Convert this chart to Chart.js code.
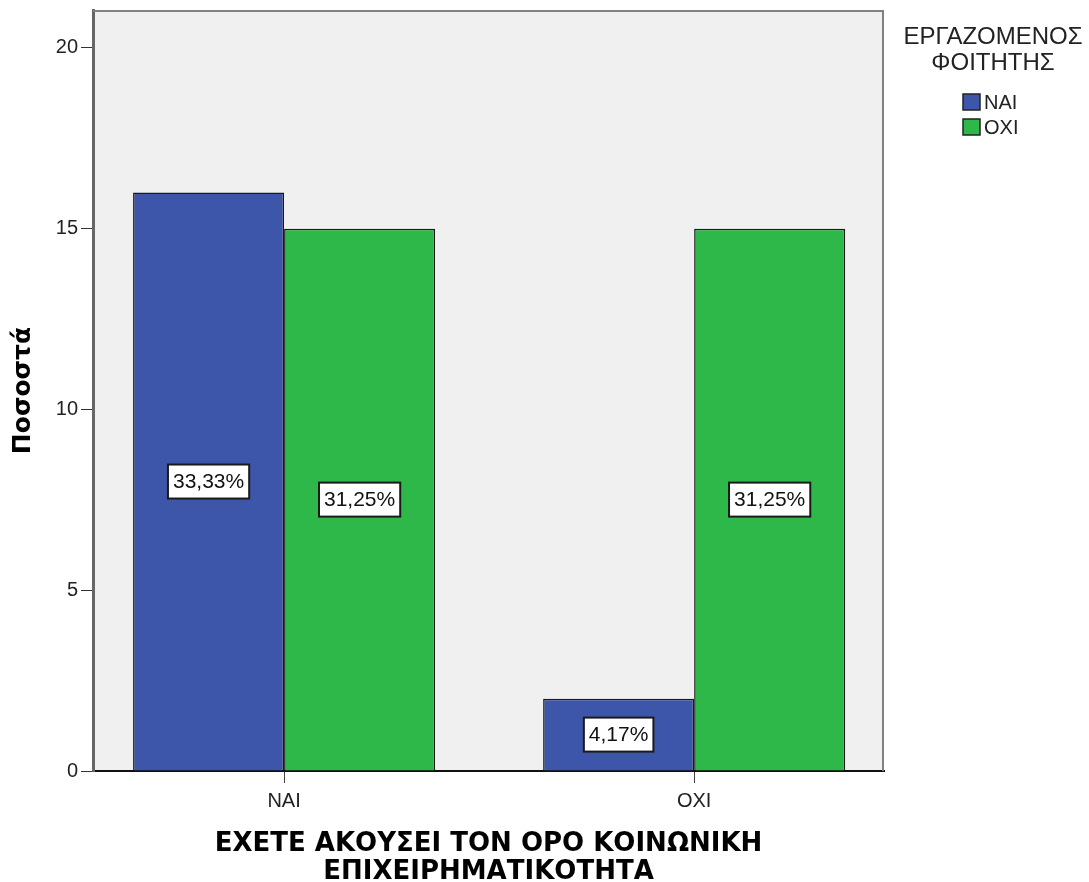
<!DOCTYPE html>
<html><head><meta charset="utf-8">
<script src="https://cdn.jsdelivr.net/npm/chart.js@4.4.1/dist/chart.umd.min.js"></script>
<style>html,body{margin:0;padding:0;background:#fff;}#wrap{width:1089px;height:882px;}</style>
</head><body><div id="wrap"><canvas id="c" width="1089" height="882"></canvas></div>
<script>
const categories = ['ΝΑΙ', 'ΟΧΙ'];
const seriesNames = ['ΝΑΙ', 'ΟΧΙ'];
const seriesNAI = [16, 2];
const seriesOXI = [15, 15];
const pctNAI = ['33,33%', '4,17%'];
const pctOXI = ['31,25%', '31,25%'];
const yTicks = [0, 5, 10, 15, 20];
const legendTitle = ['ΕΡΓΑΖΟΜΕΝΟΣ', 'ΦΟΙΤΗΤΗΣ'];
const xTitle = ['ΕΧΕΤΕ ΑΚΟΥΣΕΙ ΤΟΝ ΟΡΟ ΚΟΙΝΩΝΙΚΗ', 'ΕΠΙΧΕΙΡΗΜΑΤΙΚΟΤΗΤΑ'];
const yTitle = 'Ποσοστά';

const BLUE = '#3E56AA';
const GREEN = '#2EB84A';
const pctLabels = [pctNAI, pctOXI];

const framePlugin = {
  id: 'frame',
  beforeDraw(chart) {
    const {ctx, chartArea: a} = chart;
    ctx.save();
    ctx.fillStyle = '#F0F0F0';
    ctx.fillRect(a.left, a.top, a.right - a.left, a.bottom - a.top);
    ctx.restore();
  },
  afterDraw(chart) {
    const {ctx, chartArea: a} = chart;
    ctx.save();
    ctx.strokeStyle = '#808080';
    ctx.lineWidth = 2;
    ctx.beginPath();
    ctx.moveTo(a.left, a.top + 1);
    ctx.lineTo(a.right - 1, a.top + 1);
    ctx.lineTo(a.right - 1, a.bottom);
    ctx.stroke();
    // legend
    ctx.fillStyle = '#222';
    ctx.font = '24px "Liberation Sans"';
    ctx.textAlign = 'center';
    ctx.textBaseline = 'middle';
    ctx.fillText(legendTitle[0], 993, 37);
    ctx.fillText(legendTitle[1], 993, 63);
    const colors = [BLUE, GREEN];
    ctx.font = '20px "Liberation Sans"';
    ctx.textAlign = 'left';
    seriesNames.forEach((n, i) => {
      const y = 94 + i * 25;
      ctx.fillStyle = colors[i];
      ctx.fillRect(963, y, 17, 16);
      ctx.strokeStyle = '#222';
      ctx.lineWidth = 1.5;
      ctx.strokeRect(963, y, 17, 16);
      ctx.fillStyle = '#222';
      ctx.fillText(n, 984, y + 9);
    });
    ctx.restore();
  },
  afterDatasetsDraw(chart) {
    const {ctx} = chart;
    ctx.save();
    ctx.font = '21px "Liberation Sans"';
    ctx.textAlign = 'center';
    ctx.textBaseline = 'middle';
    chart.data.datasets.forEach((ds, di) => {
      const meta = chart.getDatasetMeta(di);
      meta.data.forEach((el, i) => {
        const t = pctLabels[di][i];
        const x = el.x, y = (el.y + el.base) / 2;
        const w = ctx.measureText(t).width + 10;
        const h = 34;
        ctx.fillStyle = '#fff';
        ctx.fillRect(x - w / 2, y - h / 2, w, h);
        ctx.strokeStyle = '#1a1a1a';
        ctx.lineWidth = 2;
        ctx.strokeRect(x - w / 2, y - h / 2, w, h);
        ctx.fillStyle = '#111';
        ctx.fillText(t, x, y + 1);
      });
    });
    ctx.restore();
  }
};

new Chart(document.getElementById('c'), {
  type: 'bar',
  data: {
    labels: categories,
    datasets: [
      {label: seriesNames[0], data: seriesNAI, backgroundColor: BLUE, borderColor: '#1a1a1a', borderWidth: 1.5},
      {label: seriesNames[1], data: seriesOXI, backgroundColor: GREEN, borderColor: '#1a1a1a', borderWidth: 1.5}
    ]
  },
  options: {
    responsive: false,
    animation: false,
    devicePixelRatio: 1,
    categoryPercentage: 0.7366,
    barPercentage: 1,
    layout: {padding: {top: 10, right: 205, left: 0, bottom: 0}},
    plugins: {legend: {display: false}, tooltip: {enabled: false}},
    scales: {
      x: {
        grid: {display: true, drawOnChartArea: false, drawTicks: true, tickLength: 12, offset: false, color: '#444', lineWidth: 1},
        border: {display: true, color: '#111', width: 2},
        ticks: {color: '#222', font: {family: 'Liberation Sans', size: 20}, padding: 6},
        title: {display: true, text: xTitle, color: '#000', font: {family: 'DejaVu Sans', weight: 'bold', size: 26, lineHeight: 1.077}, padding: {top: 0, bottom: -4}},
        afterBuildTicks: s => { s._startValue = -0.466; s._valueRange = 1.929; },
        afterFit: s => { s.height = 111; s.paddingLeft = 0; s.paddingRight = 0; }
      },
      y: {
        min: 0,
        max: 21.05,
        afterBuildTicks: s => { s.ticks = yTicks.map(v => ({value: v})); },
        grid: {display: true, drawOnChartArea: false, drawTicks: true, tickLength: 12, color: '#333', lineWidth: 1},
        border: {display: true, color: '#666', width: 3},
        ticks: {color: '#222', font: {family: 'Liberation Sans', size: 20}, padding: 3},
        title: {display: true, text: yTitle, color: '#000', font: {family: 'DejaVu Sans', weight: 'bold', size: 25, lineHeight: 1.12}, padding: {top: 9, bottom: 0}},
        afterFit: s => { s.width = 93; s.paddingTop = 0; s.paddingBottom = 0; }
      }
    }
  },
  plugins: [framePlugin]
});
</script></body></html>
